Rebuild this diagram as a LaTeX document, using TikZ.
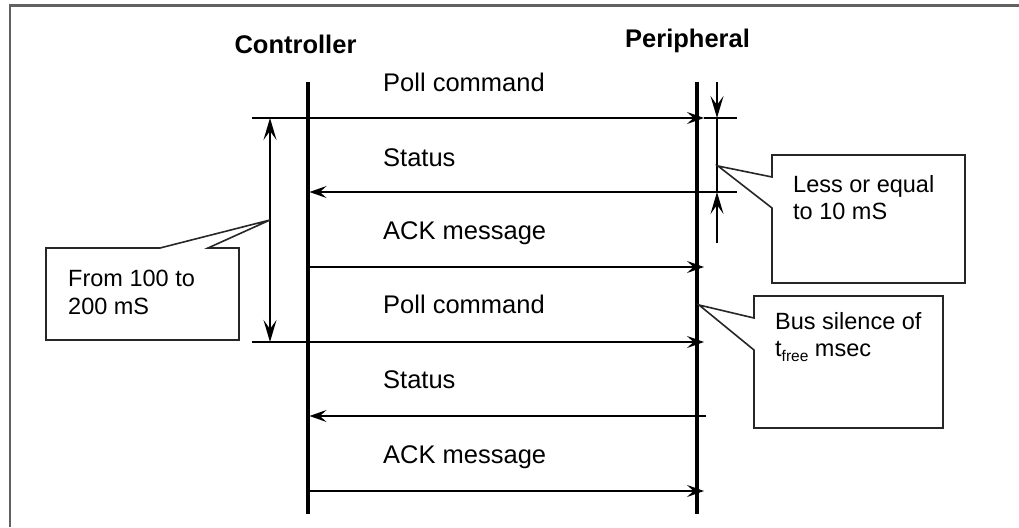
\documentclass[tikz,border=0pt]{standalone}
\usepackage{fontspec}
\setmainfont{Liberation Sans}
\usetikzlibrary{arrows.meta}
\begin{document}
\begin{tikzpicture}[x=1pt,y=-1pt,
  life/.style={line width=3.4pt},
  msg/.style={line width=1.6pt,-{Stealth[length=17pt,width=12pt,inset=6.5pt]}},
  extline/.style={line width=1.5pt},
  dimline/.style={line width=1.5pt},
  dimtip/.style={line width=1.5pt,-{Stealth[length=22pt,width=13pt,inset=9pt]}},
  dimboth/.style={line width=1.5pt,{Stealth[length=22pt,width=13pt,inset=9pt]}-{Stealth[length=22pt,width=13pt,inset=9pt]}},
  callout/.style={draw=black!85,line width=1.6pt,fill=white},
  lbl/.style={font=\fontsize{25.5}{30}\selectfont,anchor=base west,inner sep=0pt},
  head/.style={font=\bfseries\fontsize{25.5}{30}\selectfont,anchor=base,inner sep=0pt},
  ctext/.style={font=\fontsize{23.5}{27.5}\selectfont,align=left,anchor=north west,inner sep=0pt},
  framelines/.style={draw=black!62,line width=2.4pt}]
\useasboundingbox (0,0) rectangle (1019,527);
% frame
\coordinate (f1) at (10,527);
\coordinate (f2) at (10,5.5);
\coordinate (f3) at (1019,5.5);
\draw[framelines] (f1) -- (f2) -- (f3);
% headers
\node[head] (ctl) at (295.5,53) {Controller};
\node[head] (per) at (687.5,48) {Peripheral};
% lifelines
\coordinate (cTop) at (308,82);
\coordinate (cBot) at (308,514);
\coordinate (pTop) at (697,82);
\coordinate (pBot) at (697,514);
\draw[life] (cTop) -- (cBot);
\draw[life] (pTop) -- (pBot);
% message coordinates
\foreach \i/\y in {1/118,2/192,3/267,4/342,5/416,6/491}{
  \coordinate (c\i) at (308,\y);
  \coordinate (cs\i) at (309.5,\y);
  \coordinate (p\i) at (704,\y);
}
\coordinate (L1) at (252,118);
\coordinate (L4) at (252,342);
\coordinate (R1) at (737,118);
\coordinate (R2) at (737,192);
\coordinate (S5) at (706,416);
% messages
\draw[extline] (L1) -- (c1);
\draw[msg] (c1) -- (p1);
\draw[extline] (p1) -- (R1);
\draw[msg] (R2) -- (cs2);
\draw[msg] (c3) -- (p3);
\draw[extline] (L4) -- (c4);
\draw[msg] (c4) -- (p4);
\draw[msg] (S5) -- (cs5);
\draw[msg] (c6) -- (p6);
% labels
\node[lbl] (m1) at (383,91) {Poll command};
\node[lbl] (m2) at (383,166) {Status};
\node[lbl] (m3) at (383,239) {ACK message};
\node[lbl] (m4) at (383,313) {Poll command};
\node[lbl] (m5) at (383,388) {Status};
\node[lbl] (m6) at (383,463) {ACK message};
% left dimension
\coordinate (E1) at (270,118);
\coordinate (E2) at (270,342);
\draw[dimboth] (E1) -- (E2);
% right dimension
\coordinate (D1) at (717,82);
\coordinate (D2) at (717,118);
\coordinate (D3) at (717,192);
\coordinate (D4) at (717,243);
\draw[dimtip] (D1) -- (D2);
\draw[dimline] (D2) -- (D3);
\draw[dimtip] (D4) -- (D3);
% left callout
\coordinate (tipA) at (270,220);
\draw[callout] (46,248) -- (160,248) -- (tipA) -- (208,248) -- (239,248) -- (239,340) -- (46,340) -- cycle;
\node[ctext] (tA) at (68,270) {From 100 to\\200 mS};
% top right callout
\coordinate (tipB) at (718,166);
\draw[callout] (772,155) -- (965,155) -- (965,283) -- (772,283) -- (772,208) -- (tipB) -- (772,177) -- cycle;
\node[ctext] (tB) at (793,175) {Less or equal\\to 10 mS};
% bus silence callout
\coordinate (tipC) at (699,305);
\draw[callout] (754,296) -- (943,296) -- (943,428) -- (754,428) -- (754,350) -- (tipC) -- (754,318) -- cycle;
\node[ctext] (tC) at (775,312) {Bus silence of\\t\raisebox{-0.22em}{\fontsize{15.5}{16}\selectfont free} msec};
\end{tikzpicture}
\end{document}
